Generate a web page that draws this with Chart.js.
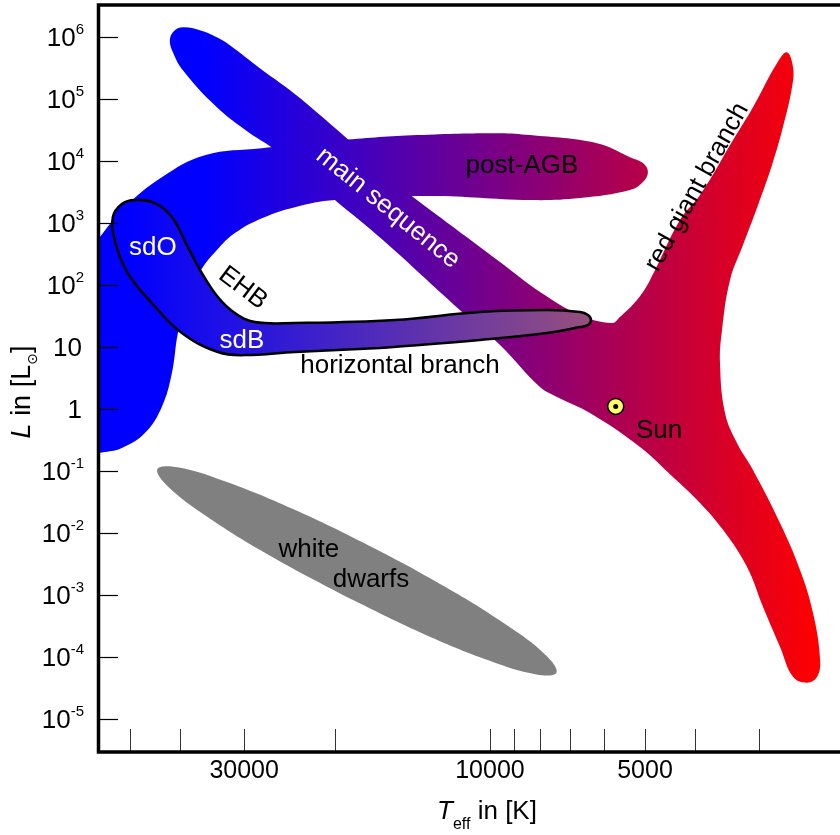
<!DOCTYPE html>
<html>
<head>
<meta charset="utf-8">
<script src="https://cdn.jsdelivr.net/npm/chart.js@4.4.1/dist/chart.umd.min.js"></script>
<style>
  html, body { margin: 0; padding: 0; background: #fff; }
  #wrap { width: 840px; height: 835px; overflow: hidden; }
  canvas { display: block; }
</style>
</head>
<body>
<div id="wrap"><canvas id="hrd" width="860" height="835"></canvas></div>
<script>
const FONT = '"Liberation Sans", Arial, Helvetica, sans-serif';

// luminosity decades (exponents) and temperature ticks
const lumExponents = [-5, -4, -3, -2, -1, 0, 1, 2, 3, 4, 5, 6];
const tempTicks = [50000, 40000, 30000, 20000, 10000, 9000, 8000, 7000, 6000, 5000, 4000, 3000];
const tempLabels = [30000, 10000, 5000];

// region outlines as [Teff in K, L in Lsun]
const mainSequence = [
  [14110, 2630], [9560, 235], [7995, 77.1], [6686, 32.8],
  [5796, 24.4], [5593, 30.5], [5183, 57.3], [4890, 120], [4277, 1120],
  [3910, 2830], [3375, 2.18e4], [3086, 7.43e4], [2772, 3.81e5], [2651, 5.73e5],
  [2580, 3.28e5], [2592, 1.56e5], [2699, 3.54e4], [2835, 8620], [3018, 1950],
  [3227, 442], [3420, 120], [3544, 18.8], [3576, 5.5], [3497, 0.86],
  [3315, 0.283], [3086, 0.104], [2735, 0.0145], [2501, 0.00253], [2360, 5.13e-4],
  [2286, 8.95e-5], [2317, 4.75e-5], [2424, 3.81e-5], [2580, 4.75e-5], [2735, 1.45e-4],
  [2951, 6.4e-4], [3170, 2.83e-3], [3528, 0.0112], [3910, 0.0305], [4434, 0.0831],
  [5114, 0.244], [6394, 0.86], [7410, 1.56], [7995, 2.26], [9560, 10.8],
  [11440, 39.5], [16140, 532], [20000, 2350], [26390, 1.62e4], [29240, 2.83e4],
  [33890, 7.43e4], [39450, 2.94e5], [41250, 5.73e5], [41820, 8.95e5], [41080, 1.25e6],
  [39450, 1.45e6], [36570, 1.30e6], [33890, 1.0e6], [31980, 7.43e5], [27970, 3.16e5],
  [23380, 1.04e5], [14110, 2630]
];

const postAGB = [
  [61150, 0.181], [61150, 305], [58480, 476], [51140, 1810], [43350, 5520],
  [35760, 1.25e4], [27720, 1.62e4], [19380, 2.18e4], [13860, 2.63e4], [9560, 2.83e4],
  [8360, 2.63e4], [6198, 1.95e4], [5348, 1.16e4], [5046, 9290], [4935, 6650],
  [5046, 4585], [5348, 3410], [6686, 2530], [8360, 2350], [13080, 2730],
  [20000, 2350], [23910, 1810], [27720, 1200], [31270, 690], [33890, 367],
  [36570, 162], [38940, 47.6], [40340, 16.8], [41440, 3.8], [43350, 1.08],
  [46770, 0.41], [51830, 0.235], [55900, 0.202], [61150, 0.181]
];

const horizontalBranch = [
  [16360, 9.6], [23910, 8.3], [29900, 7.4], [33740, 8.3], [39630, 16.8],
  [45330, 51.3], [50470, 156], [53500, 532], [53950, 1250], [51830, 2030],
  [48900, 2350], [44730, 2100], [41440, 1250], [38580, 410], [36240, 156],
  [33740, 64], [31270, 35.3], [28600, 25.3], [23910, 24.4], [15290, 27.3],
  [10460, 36.7], [7750, 39.5], [6686, 36.7], [6452, 32.8], [6366, 27.3],
  [6452, 22.6], [6686, 21.0], [7750, 16.8], [10460, 13.0], [16360, 9.6]
];

const whiteDwarfs = [
  [19180, 9.67e-4], [26880, 4.41e-3], [35450, 0.01845], [42230, 0.0566], [44220, 0.1074],
  [40410, 0.1148], [32710, 0.0682], [24180, 0.0245], [17120, 6.15e-3], [12220, 1.35e-3],
  [9265, 3.22e-4], [7779, 1.05e-4], [7428, 5.55e-5], [8126, 5.19e-5], [10040, 8.71e-5],
  [13580, 2.43e-4], [19180, 9.67e-4]
];

const sun = [5700, 1.1];

// text placed on the diagram: [text, Teff, L, angle in degrees, colour]
const notes = [
  ['main sequence', 15780, 1750, 39, '#ffffff'],
  ['post-AGB', 8667, 8300, 0, '#000000'],
  ['red giant branch', 3963, 3810, -61, '#000000'],
  ['sdO', 45130, 395, 0, '#ffffff'],
  ['EHB', 30170, 89.5, 37, '#000000'],
  ['sdB', 30300, 12.5, 0, '#ffffff'],
  ['horizontal branch', 14950, 4.94, 0, '#000000'],
  ['Sun', 4696, 0.442, 0, '#000000'],
  ['white', 22460, 0.00532, 0, '#000000'],
  ['dwarfs', 17020, 0.00175, 0, '#000000']
];

function pts(list) {
  return list.map(p => ({ x: p[0], y: p[1] }));
}

// horizontal colour sweep between two temperatures
function sweep(tFrom, cFrom, tTo, cTo) {
  return function (context) {
    const chart = context.chart;
    const x = chart.scales.x;
    if (!chart.chartArea || !x) return cFrom;
    const g = chart.ctx.createLinearGradient(x.getPixelForValue(tFrom), 0, x.getPixelForValue(tTo), 0);
    g.addColorStop(0, cFrom);
    g.addColorStop(1, cTo);
    return g;
  };
}

const blueRed = sweep(36000, 'rgb(0,0,255)', 2300, 'rgb(255,0,0)');

const region = {
  showLine: true,
  fill: 'shape',
  tension: 0.4,
  pointRadius: 0,
  borderColor: 'rgba(0,0,0,0)',
  borderWidth: 1
};

const decor = {
  id: 'decor',
  afterDatasetsDraw(chart) {
    const { ctx, scales: { x, y } } = chart;
    ctx.save();
    notes.forEach(n => {
      ctx.save();
      ctx.translate(x.getPixelForValue(n[1]), y.getPixelForValue(n[2]));
      ctx.rotate(n[3] * Math.PI / 180);
      ctx.font = '26px ' + FONT;
      ctx.fillStyle = n[4];
      ctx.textAlign = 'center';
      ctx.textBaseline = 'middle';
      ctx.fillText(n[0], 0, 0);
      ctx.restore();
    });
    ctx.restore();
  },
  afterDraw(chart) {
    const { ctx, chartArea: a, scales: { x, y } } = chart;
    ctx.save();

    // tick marks
    ctx.strokeStyle = '#000';
    ctx.lineWidth = 1.2;
    lumExponents.forEach(e => {
      const py = Math.round(y.getPixelForValue(Math.pow(10, e))) + 0.5;
      ctx.beginPath();
      ctx.moveTo(a.left, py);
      ctx.lineTo(a.left + 19, py);
      ctx.stroke();
    });
    ctx.strokeStyle = '#333';
    ctx.lineWidth = 1;
    tempTicks.forEach(t => {
      const px = Math.round(x.getPixelForValue(t)) + 0.5;
      ctx.beginPath();
      ctx.moveTo(px, a.bottom);
      ctx.lineTo(px, a.bottom - 22);
      ctx.stroke();
    });

    // frame (open to the right)
    ctx.strokeStyle = '#000';
    ctx.lineWidth = 3.5;
    ctx.beginPath();
    ctx.moveTo(chart.width, a.top);
    ctx.lineTo(a.left - 0.5, a.top);
    ctx.lineTo(a.left - 0.5, a.bottom + 1);
    ctx.lineTo(chart.width, a.bottom + 1);
    ctx.stroke();

    // luminosity labels
    ctx.fillStyle = '#000';
    ctx.textBaseline = 'alphabetic';
    lumExponents.forEach(e => {
      const py = y.getPixelForValue(Math.pow(10, e));
      const right = 84;
      if (e === 0 || e === 1) {
        ctx.font = '26px ' + FONT;
        ctx.textAlign = 'right';
        ctx.fillText(e === 0 ? '1' : '10', right - 2, py + 9);
        return;
      }
      ctx.font = '15px ' + FONT;
      const sup = String(e);
      const wSup = ctx.measureText(sup).width;
      ctx.textAlign = 'left';
      ctx.fillText(sup, right - wSup, py - 3);
      ctx.font = '26px ' + FONT;
      ctx.textAlign = 'right';
      ctx.fillText('10', right - wSup, py + 9);
    });

    // temperature labels
    ctx.font = '25px ' + FONT;
    ctx.textAlign = 'center';
    tempLabels.forEach(t => {
      ctx.fillText(String(t), x.getPixelForValue(t), 778);
    });

    // x title: T_eff in [K]
    const parts = [
      ['italic 26px ' + FONT, 'T', 0],
      ['16px ' + FONT, 'eff', 10],
      ['26px ' + FONT, ' in [K]', 0]
    ];
    let total = 0;
    parts.forEach(p => { ctx.font = p[0]; total += ctx.measureText(p[1]).width; });
    let cx = 487 - total / 2;
    ctx.textAlign = 'left';
    parts.forEach(p => {
      ctx.font = p[0];
      ctx.fillText(p[1], cx, 819 + p[2]);
      cx += ctx.measureText(p[1]).width;
    });

    // y title: L in [L_sun]
    const yparts = [
      ['italic 27px ' + FONT, 'L', 0],
      ['27px ' + FONT, ' in [L', 0],
      ['14px "DejaVu Sans", ' + FONT, '\u2299', 7],
      ['27px ' + FONT, ']', 0]
    ];
    ctx.save();
    ctx.translate(30, 392);
    ctx.rotate(-Math.PI / 2);
    total = 0;
    yparts.forEach(p => { ctx.font = p[0]; total += ctx.measureText(p[1]).width; });
    cx = -total / 2;
    yparts.forEach(p => {
      ctx.font = p[0];
      ctx.fillText(p[1], cx, p[2]);
      cx += ctx.measureText(p[1]).width;
    });
    ctx.restore();

    ctx.restore();
  }
};

new Chart(document.getElementById('hrd'), {
  type: 'scatter',
  data: {
    datasets: [
      { data: pts([sun]), showLine: false, pointRadius: 2.5, pointBackgroundColor: '#000', pointBorderWidth: 0, order: 0 },
      { data: pts([sun]), showLine: false, pointRadius: 8, pointBackgroundColor: '#ffff66', pointBorderColor: '#000', pointBorderWidth: 1.5, order: 1 },
      Object.assign({}, region, {
        data: pts(horizontalBranch),
        backgroundColor: sweep(50000, 'rgb(0,0,255)', 6400, 'rgb(150,80,125)'),
        borderColor: '#000',
        borderWidth: 2.5,
        order: 2
      }),
      Object.assign({}, region, { data: pts(whiteDwarfs), backgroundColor: 'rgb(128,128,128)', order: 3 }),
      Object.assign({}, region, { data: pts(postAGB), backgroundColor: blueRed, order: 4 }),
      Object.assign({}, region, { data: pts(mainSequence), backgroundColor: blueRed, order: 5 })
    ]
  },
  options: {
    responsive: false,
    animation: false,
    events: [],
    layout: { autoPadding: false, padding: { left: 99, top: 5, right: 10, bottom: 84 } },
    scales: {
      x: { type: 'logarithmic', reverse: true, min: 2000, max: 57400, display: false },
      y: { type: 'logarithmic', min: Math.pow(10, -5.52), max: Math.pow(10, 6.52), display: false }
    },
    elements: { line: { capBezierPoints: false } },
    plugins: { legend: { display: false }, tooltip: { enabled: false } }
  },
  plugins: [decor]
});
</script>
</body>
</html>
